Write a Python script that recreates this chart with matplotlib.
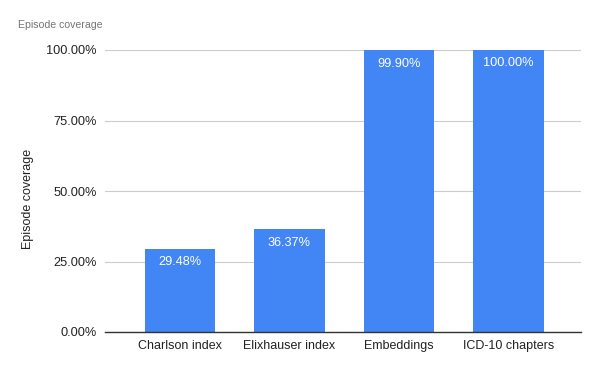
import matplotlib
matplotlib.use("Agg")
import matplotlib.pyplot as plt
from matplotlib.ticker import FuncFormatter

categories = ["Charlson index", "Elixhauser index", "Embeddings", "ICD-10 chapters"]
values = [29.48, 36.37, 99.90, 100.00]
yticks = [0, 25, 50, 75, 100]

plt.rcParams['font.family'] = ['Liberation Sans', 'DejaVu Sans']

W, H = 600, 371
fig = plt.figure(figsize=(W/100, H/100), dpi=100)
left, right, top, bottom = 105, 581, 50, 332
ax = fig.add_axes([left/W, 1 - bottom/H, (right-left)/W, (bottom-top)/H])

x = list(range(len(categories)))
bars = ax.bar(x, values, width=0.645, color="#4285F4", zorder=3)
for xi, v in zip(x, values):
    ax.text(xi, v - 2.6, f"{v:.2f}%", ha="center", va="top", color="white", fontsize=9.2, zorder=4)

ax.set_xlim(-0.685, 3.665)
ax.set_ylim(0, 100)
ax.set_yticks(yticks)
ax.yaxis.set_major_formatter(FuncFormatter(lambda v, p: f"{v:.2f}%"))
ax.set_xticks(x)
ax.set_xticklabels(categories)
ax.grid(axis="y", color="#cccccc", linewidth=0.8, zorder=0)
for s in ["top", "right", "left"]:
    ax.spines[s].set_visible(False)
ax.spines["bottom"].set_color("#333333")
ax.spines["bottom"].set_linewidth(1.0)
ax.spines["bottom"].set_zorder(5)
ax.tick_params(axis="x", length=0, labelsize=9.0, colors="#222222", pad=6)
ax.tick_params(axis="y", length=0, labelsize=9.2, colors="#222222", pad=6)
ax.set_ylabel("Episode coverage", fontsize=9.0, color="#222222")
ax.yaxis.set_label_coords((34 - left) / (right - left), (bottom - 199) / (bottom - top))

fig.text(18/W, 1 - 25/H, "Episode coverage", fontsize=7.6, color="#757575", ha="left", va="center")

fig.savefig("out.png", dpi=100)
